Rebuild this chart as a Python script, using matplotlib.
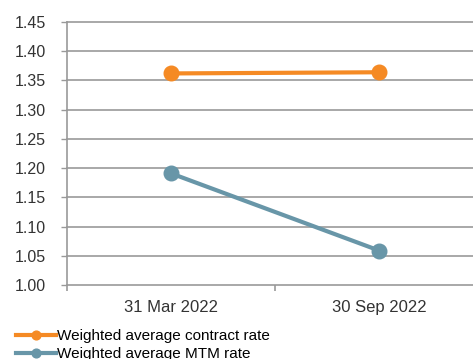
import matplotlib.pyplot as plt

plt.rcParams['font.family'] = ['Liberation Sans', 'DejaVu Sans']

categories = ['31 Mar 2022', '30 Sep 2022']
contract_rate = [1.362, 1.364]
mtm_rate = [1.191, 1.059]
yticks = [1.00, 1.05, 1.10, 1.15, 1.20, 1.25, 1.30, 1.35, 1.40, 1.45]

fig = plt.figure(figsize=(4.73, 3.59), dpi=100)
ax = fig.add_axes([67/473, 1 - 285/359, 416/473, 263/359])

x = range(len(categories))
ax.plot(x, contract_rate, color='#F58A24', lw=3, marker='o', ms=10.5,
        label='Weighted average contract rate', zorder=3)
ax.plot(x, mtm_rate, color='#6896A8', lw=3, marker='o', ms=10.5,
        label='Weighted average MTM rate', zorder=3)

ax.set_xlim(-0.5, 1.5)
ax.set_ylim(1.00, 1.45)
ax.set_yticks(yticks)
ax.set_yticklabels([f'{v:.2f}' for v in yticks], fontsize=11.5, color='#333333')
ax.set_xticks(list(x))
ax.set_xticklabels(categories, fontsize=12, color='#333333')
ax.set_xticks([-0.5, 0.5, 1.5], minor=True)
ax.tick_params(axis='x', which='major', length=0, pad=11)
ax.tick_params(axis='x', which='minor', length=4, color='#999999', width=1.2)
ax.tick_params(axis='y', length=4.3, color='#999999', width=1, pad=11)
ax.grid(axis='y', color='#999999', lw=1.2)
for gl in ax.get_ygridlines():
    gl.set_clip_on(False)
ax.set_axisbelow(True)
for s in ['top', 'right', 'bottom']:
    ax.spines[s].set_visible(False)
ax.spines['left'].set_color('#999999')
ax.spines['left'].set_linewidth(1.2)

fig.legend(loc='upper left', bbox_to_anchor=(0.034, 0.083), frameon=False,
           fontsize=11, handlelength=2.6, handletextpad=0.05, labelspacing=0.25,
           borderaxespad=0, borderpad=0, markerscale=0.6)

plt.savefig('out.png', dpi=100)
